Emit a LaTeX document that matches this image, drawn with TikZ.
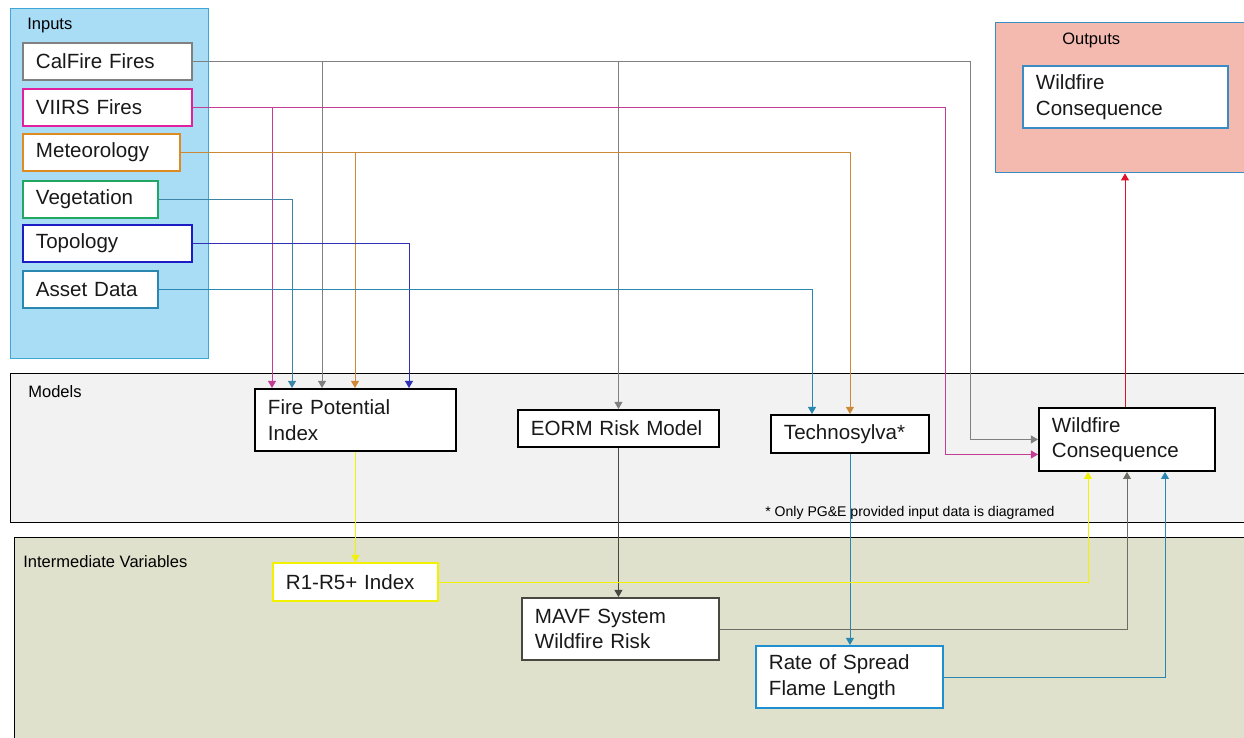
\documentclass[tikz,border=0pt]{standalone}
\usepackage{fontspec}
\setmainfont{Liberation Sans}
\usetikzlibrary{arrows.meta,positioning,calc}

\definecolor{inblue}{HTML}{A9DDF6}
\definecolor{inedge}{HTML}{3FA6D6}
\definecolor{outpink}{HTML}{F4B9AF}
\definecolor{outedge}{HTML}{3A8CC4}
\definecolor{modgray}{HTML}{F2F2F2}
\definecolor{midolive}{HTML}{DFE1CC}
\definecolor{calgray}{HTML}{808080}
\definecolor{viirspink}{HTML}{E0209E}
\definecolor{metorange}{HTML}{E08A22}
\definecolor{veggreen}{HTML}{20A862}
\definecolor{topoblue}{HTML}{1C1CC4}
\definecolor{assetteal}{HTML}{2A88B0}
\definecolor{rtyellow}{HTML}{F2F200}
\definecolor{mavfdark}{HTML}{484840}
\definecolor{rosblue}{HTML}{1E90D0}
\definecolor{alarmred}{HTML}{E0102A}

\newcommand{\boxfont}{\fontsize{11.7}{14.5}\selectfont}
\newcommand{\lblfont}{\fontsize{9.4}{11}\selectfont}

\begin{document}
\begin{tikzpicture}[
    x=0.02cm, y=-0.02cm,
    >={Triangle[width=4.5pt,length=4pt]},
    box/.style={draw=#1, fill=white, line width=1.1pt, anchor=north west, minimum height=0.74cm,
        inner xsep=0.26cm, inner ysep=0pt, align=left, font=\boxfont, text=black!90},
    box/.default=black,
    panel/.style={anchor=north west, inner sep=0pt, line width=0.8pt},
    lbl/.style={anchor=west, inner sep=0pt, font=\lblfont},
    link/.style={->, line width=0.5pt, color=#1}
]
\useasboundingbox (0,0) rectangle (1244,737);
\clip (0,0) rectangle (1244,737);

% panels and bands
\node[panel, fill=inblue, draw=inedge, minimum width=3.96cm, minimum height=7cm] (inpanel) at (10,8) {};
\node[panel, fill=outpink, draw=outedge, minimum width=5.1cm, minimum height=3cm] (outpanel) at (995,22) {};
\node[panel, fill=modgray, draw=black, minimum width=25cm, minimum height=2.98cm] (modband) at (10,373) {};
\node[panel, fill=midolive, draw=black, minimum width=25cm, minimum height=4.3cm] (midband) at (14,537) {};

\node[lbl] (inlbl) at (27,26) {Inputs};
\node[lbl] (outlbl) at (1062,40) {Outputs};
\node[lbl] (modlbl) at (28,392) {Models};
\node[lbl] (midlbl) at (23,562) {Intermediate Variables};
\node[lbl, font=\fontsize{8}{10}\selectfont] (note) at (765,513) {* Only PG\&E provided input data is diagramed};

% inputs
\node[box=calgray, text width=2.86cm] (cal) at (22,42) {CalFire Fires};
\node[box=viirspink, text width=2.86cm] (viirs) at (22,88) {VIIRS Fires};
\node[box=metorange, text width=2.62cm] (met) at (22,133) {Meteorology};
\node[box=veggreen, text width=2.18cm] (veg) at (22,180) {Vegetation};
\node[box=topoblue, text width=2.86cm] (topo) at (22,224) {Topology};
\node[box=assetteal, text width=2.18cm] (asset) at (22,270) {Asset Data};

% models
\node[box, text width=3.50cm, minimum height=1.24cm] (fpi) at (254,388) {Fire Potential\\Index};
\node[box, text width=3.50cm] (eorm) at (517,409) {EORM Risk Model};
\node[box, text width=2.64cm, minimum height=0.76cm] (techno) at (770,414) {Technosylva*};
\node[box, text width=3.00cm, minimum height=1.26cm] (wc) at (1038,407) {Wildfire\\Consequence};

% intermediate variables
\node[box=rtyellow, text width=2.78cm, minimum height=0.76cm] (rindex) at (272,562) {R1-R5+ Index};
\node[box=mavfdark, text width=3.42cm, minimum height=1.24cm] (mavf) at (521,597) {MAVF System\\Wildfire Risk};
\node[box=rosblue, text width=3.22cm, minimum height=1.24cm] (ros) at (755,645) {Rate of Spread\\Flame Length};

% outputs
\node[box=outedge, text width=3.58cm, minimum height=1.24cm] (outwc) at (1022,65) {Wildfire\\Consequence};

% inputs to models
\draw[link=calgray] (cal.east) -| ($(fpi.north west)+(68,0)$);
\draw[link=calgray] (cal.east) -| (eorm.north);
\draw[link=calgray] (cal.east) -| ($(wc.west)+(-68,0)$) -- (wc.west);
\draw[link=viirspink!70!gray] (viirs.east) -| ($(fpi.north west)+(18,0)$);
\draw[link=viirspink!70!gray] (viirs.east) -| ($(wc.west)+(-93,15)$) -- ($(wc.west)+(0,15)$);
\draw[link=metorange!80!gray] (met.east) -| ($(fpi.north west)+(101,0)$);
\draw[link=metorange!80!gray] (met.east) -| (techno.north);
\draw[link=assetteal!80!gray] (veg.east) -| ($(fpi.north west)+(38,0)$);
\draw[link=topoblue!80!gray] (topo.east) -| ($(fpi.north west)+(155,0)$);
\draw[link=assetteal] (asset.east) -| ($(techno.north west)+(42,0)$);

% models to intermediate variables
\draw[link=rtyellow] (fpi.south) -- (fpi.south |- rindex.north);
\draw[link=mavfdark] (eorm.south) -- (eorm.south |- mavf.north);
\draw[link=assetteal] (techno.south) -- (techno.south |- ros.north);

% intermediate variables to consequence
\draw[link=rtyellow] (rindex.east) -| ($(wc.south west)+(50,0)$);
\draw[link=mavfdark!80] (mavf.east) -| ($(wc.south west)+(89,0)$);
\draw[link=assetteal] (ros.east) -| ($(wc.south west)+(127,0)$);

% consequence to outputs
\coordinate (wcup) at ($(wc.north west)+(87,0)$);
\draw[link=alarmred] (wcup) -- (wcup |- outpanel.south);
\end{tikzpicture}
\end{document}
